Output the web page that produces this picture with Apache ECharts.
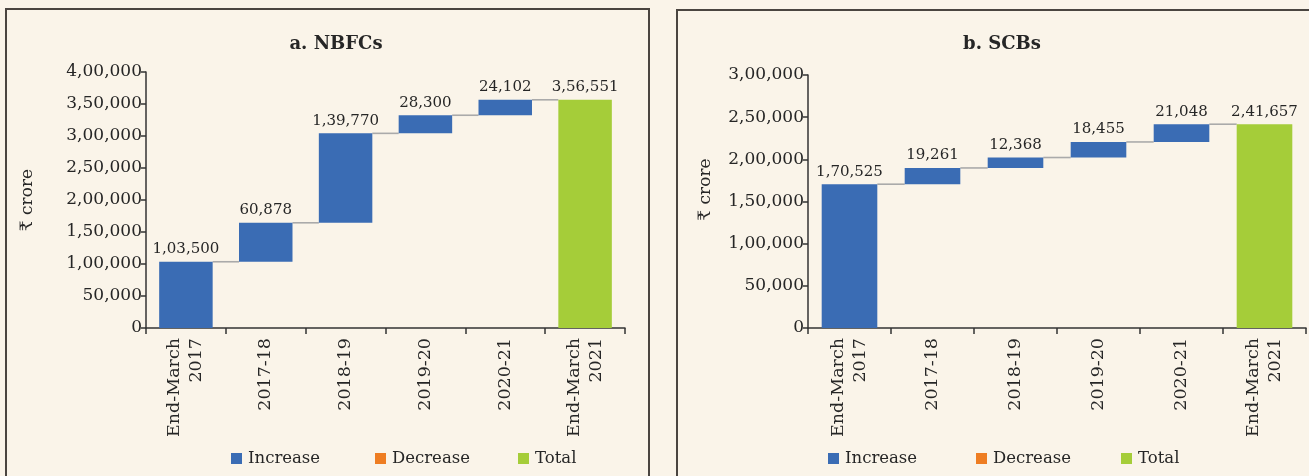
<!DOCTYPE html>
<html>
<head>
<meta charset="utf-8">
<script src="https://cdn.jsdelivr.net/npm/echarts@6/dist/echarts.min.js"></script>
<style>
html,body{margin:0;padding:0;background:#FAF4E9;}
#c{width:1309px;height:476px;}
</style>
</head>
<body>
<div id="c"></div>
<script>
var categories = ['End-March\n2017', '2017-18', '2018-19', '2019-20', '2020-21', 'End-March\n2021'];
var nbfcIncrease = [103500, 60878, 139770, 28300, 24102];
var nbfcTotal = 356551;
var scbIncrease = [170525, 19261, 12368, 18455, 21048];
var scbTotal = 241657;
var titles = ['a. NBFCs', 'b. SCBs'];
var legendNames = ['Increase', 'Decrease', 'Total'];
var nbfcTicks = {min: 0, max: 400000, interval: 50000};
var scbTicks = {min: 0, max: 300000, interval: 50000};

var FONT = 'DejaVu Serif';
var COL = {inc: '#3A6CB4', dec: '#EE7D22', tot: '#A5CD39', txt: '#262626', axis: '#333333', conn: '#AAAAAA'};

function fmtIN(n) {
  var s = String(Math.round(n));
  if (s.length <= 3) return s;
  var last3 = s.slice(-3), rest = s.slice(0, -3);
  rest = rest.replace(/\B(?=(\d{2})+(?!\d))/g, ',');
  return rest + ',' + last3;
}

function build(inc, total) {
  var n = categories.length;
  var base = [], incr = [], dec = [], tot = [], conn = [];
  var cum = 0;
  for (var i = 0; i < n; i++) {
    if (i < inc.length) {
      base.push(cum); incr.push(inc[i]); tot.push('-'); dec.push('-');
      cum += inc[i];
      conn.push([i, cum]);
    } else {
      base.push('-'); incr.push('-'); dec.push('-'); tot.push(total);
    }
  }
  return {base: base, incr: incr, dec: dec, tot: tot, conn: conn};
}

var charts = [build(nbfcIncrease, nbfcTotal), build(scbIncrease, scbTotal)];
var ticks = [nbfcTicks, scbTicks];
var grids = [
  {left: 146, top: 72, width: 479, height: 256},
  {left: 808, top: 75, width: 498, height: 253}
];
var titlePos = [331, 997];
var legendLefts = [[231, 375, 518], [828, 976, 1121]];
var nameGaps = [110, 94];
var namePad = [[0, 0, 0, 0], [0, 0, 0, 24]];

var option = {
  backgroundColor: '#FAF4E9',
  animation: false,
  textStyle: {fontFamily: FONT},
  title: [],
  legend: [],
  grid: [],
  xAxis: [],
  yAxis: [],
  series: [],
  graphic: [
    {type: 'rect', shape: {x: 6, y: 9, width: 643, height: 480}, style: {fill: 'none', stroke: '#4a4540', lineWidth: 2}, silent: true},
    {type: 'rect', shape: {x: 677, y: 10, width: 650, height: 480}, style: {fill: 'none', stroke: '#4a4540', lineWidth: 2}, silent: true}
  ]
};

for (var k = 0; k < 2; k++) {
  var d = charts[k];
  option.title.push({
    text: titles[k], left: titlePos[k], top: 30, textAlign: 'center',
    textStyle: {fontFamily: FONT, fontWeight: 'bold', fontSize: 18, color: COL.txt}
  });
  for (var j = 0; j < 3; j++) {
    option.legend.push({
      data: [legendNames[j]], left: legendLefts[k][j], top: 450, padding: 0,
      icon: 'rect', itemWidth: 11, itemHeight: 11, itemGap: 6,
      textStyle: {fontFamily: FONT, fontSize: 16.5, color: COL.txt, padding: [0, 0, 0, 1]},
      selectedMode: false
    });
  }
  option.grid.push(grids[k]);
  option.xAxis.push({
    type: 'category', gridIndex: k, data: categories,
    axisLine: {lineStyle: {color: COL.axis, width: 1.5}},
    axisTick: {show: true, length: 6, lineStyle: {color: COL.axis, width: 1.5}},
    axisLabel: {rotate: 90, fontFamily: FONT, fontSize: 17.5, color: COL.txt, margin: 10, lineHeight: 22, interval: 0}
  });
  option.yAxis.push({
    type: 'value', gridIndex: k, min: ticks[k].min, max: ticks[k].max, interval: ticks[k].interval,
    name: '\u20B9 crore', nameLocation: 'middle', nameGap: nameGaps[k], nameRotate: 90,
    nameTextStyle: {fontFamily: FONT, fontSize: 17, color: COL.txt, padding: namePad[k]},
    splitLine: {show: false},
    axisLine: {show: true, lineStyle: {color: COL.axis, width: 1.5}},
    axisTick: {show: true, length: 5, lineStyle: {color: COL.axis, width: 1.5}},
    axisLabel: {fontFamily: FONT, fontSize: 17, color: COL.txt, margin: 4, formatter: function (v) { return fmtIN(v); }}
  });
  var stackName = 'w' + k;
  option.series.push({
    name: 'base', type: 'bar', xAxisIndex: k, yAxisIndex: k, stack: stackName, barWidth: '67%',
    itemStyle: {color: 'rgba(0,0,0,0)'}, silent: true, data: d.base
  });
  option.series.push({
    name: 'Increase', type: 'bar', xAxisIndex: k, yAxisIndex: k, stack: stackName, barWidth: '67%',
    itemStyle: {color: COL.inc}, data: d.incr,
    label: {show: true, position: 'top', distance: 5, fontFamily: FONT, fontSize: 15, color: COL.txt,
      formatter: function (p) { return fmtIN(p.value); }}
  });
  option.series.push({
    name: 'Decrease', type: 'bar', xAxisIndex: k, yAxisIndex: k, stack: stackName, barWidth: '67%',
    itemStyle: {color: COL.dec}, data: d.dec
  });
  option.series.push({
    name: 'Total', type: 'bar', xAxisIndex: k, yAxisIndex: k, stack: stackName, barWidth: '67%',
    itemStyle: {color: COL.tot}, data: d.tot,
    label: {show: true, position: 'top', distance: 5, fontFamily: FONT, fontSize: 15, color: COL.txt,
      formatter: function (p) { return fmtIN(p.value); }}
  });
  option.series.push({
    name: 'connector', type: 'custom', xAxisIndex: k, yAxisIndex: k, silent: true, z: 1,
    data: d.conn.slice(0, d.conn.length),
    renderItem: function (params, api) {
      var i = api.value(0), v = api.value(1);
      var p1 = api.coord([i, v]);
      var p2 = api.coord([i + 1, v]);
      var hw = api.size([1, 0])[0] * 0.67 / 2;
      return {type: 'line', shape: {x1: p1[0] + hw, y1: p1[1], x2: p2[0] - hw, y2: p2[1]},
        style: {stroke: COL.conn, lineWidth: 1.6}};
    }
  });
}

var chart = echarts.init(document.getElementById('c'), null, {renderer: 'canvas'});
chart.setOption(option);
</script>
</body>
</html>
